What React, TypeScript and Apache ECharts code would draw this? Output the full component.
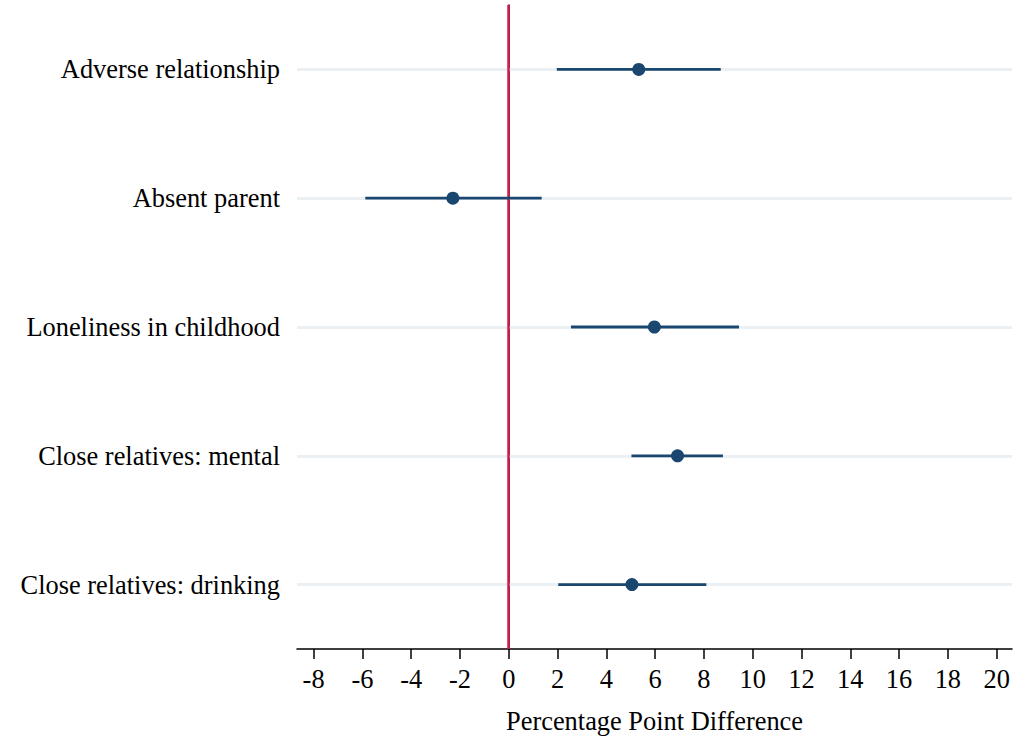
import React, { useEffect, useRef } from "react";
import * as echarts from "echarts";

// Outcomes, listed top to bottom
const categories = [
  "Adverse relationship",
  "Absent parent",
  "Loneliness in childhood",
  "Close relatives: mental",
  "Close relatives: drinking",
];
// Point estimates (percentage points)
const estimates = [5.33, -2.29, 5.97, 6.92, 5.05];
// 95% confidence bounds
const lowerCI = [1.97, -5.88, 2.55, 5.03, 2.03];
const upperCI = [8.69, 1.35, 9.44, 8.78, 8.1];
// Labelled ticks on the horizontal axis
const xTicks = [-8, -6, -4, -2, 0, 2, 4, 6, 8, 10, 12, 14, 16, 18, 20];

const FONT = "'Liberation Serif', 'Times New Roman', serif";
const NAVY = "#1a476f";
const CRIMSON = "#d01c4b";
const GRID = "#eaf0f3";

export default function App() {
  const ref = useRef<HTMLDivElement>(null);

  useEffect(() => {
    document.body.style.margin = "0";
    if (!ref.current) return;
    const chart = echarts.init(ref.current, undefined, { renderer: "svg" });

    const ciData = categories.map((c, i) => [lowerCI[i], upperCI[i], c]);
    const pointData = categories.map((c, i) => [estimates[i], c]);

    chart.setOption({
      animation: false,
      backgroundColor: "#ffffff",
      grid: { left: 297, right: 9, top: 5, bottom: 86, containLabel: false },
      xAxis: {
        type: "value",
        min: -8.68,
        max: 20.63,
        axisLine: { show: true, lineStyle: { color: "#000", width: 1.5 } },
        axisTick: {
          show: true,
          customValues: xTicks,
          length: 10,
          lineStyle: { color: "#000", width: 1.5 },
        },
        axisLabel: {
          customValues: xTicks,
          fontFamily: FONT,
          fontSize: 26.4,
          color: "#000",
          margin: 17,
        },
        splitLine: { show: false },
        name: "Percentage Point Difference",
        nameLocation: "middle",
        nameGap: 59,
        nameTextStyle: { fontFamily: FONT, fontSize: 26.4, color: "#000" },
      },
      yAxis: {
        type: "category",
        data: categories,
        inverse: true,
        boundaryGap: true,
        axisLine: { show: true, lineStyle: { color: "#000", width: 1.5 } },
        axisTick: {
          show: true,
          alignWithLabel: true,
          length: 9,
          lineStyle: { color: "#000", width: 1.5 },
        },
        axisLabel: {
          fontFamily: FONT,
          fontSize: 26.4,
          color: "#000",
          margin: 17,
        },
        splitLine: { show: false },
      },
      series: [
        {
          // light horizontal guide at each outcome
          type: "scatter",
          data: [],
          silent: true,
          z: 1,
          markLine: {
            z: 1,
            silent: true,
            symbol: ["none", "none"],
            label: { show: false },
            lineStyle: { color: GRID, width: 3, type: "solid" },
            data: categories.map((c) => ({ yAxis: c })),
          },
        },
        {
          // reference line at zero
          type: "scatter",
          data: [],
          silent: true,
          z: 2,
          markLine: {
            z: 2,
            silent: true,
            symbol: ["none", "none"],
            label: { show: false },
            lineStyle: { color: CRIMSON, width: 2.5, type: "solid" },
            data: [{ xAxis: 0 }],
          },
        },
        {
          // confidence intervals
          type: "custom",
          z: 3,
          data: ciData,
          encode: { x: [0, 1], y: 2 },
          renderItem: (params: any, api: any) => {
            const cat = api.value(2);
            const a = api.coord([api.value(0), cat]);
            const b = api.coord([api.value(1), cat]);
            return {
              type: "line",
              shape: { x1: a[0], y1: a[1], x2: b[0], y2: b[1] },
              style: { stroke: NAVY, lineWidth: 2.8 },
            };
          },
        },
        {
          // point estimates
          type: "scatter",
          z: 4,
          data: pointData,
          symbol: "circle",
          symbolSize: 13,
          itemStyle: { color: NAVY, opacity: 1 },
        },
      ],
    });

    return () => chart.dispose();
  }, []);

  return (
    <div
      ref={ref}
      style={{ position: "absolute", left: 0, top: 0, width: 1021, height: 739 }}
    />
  );
}
